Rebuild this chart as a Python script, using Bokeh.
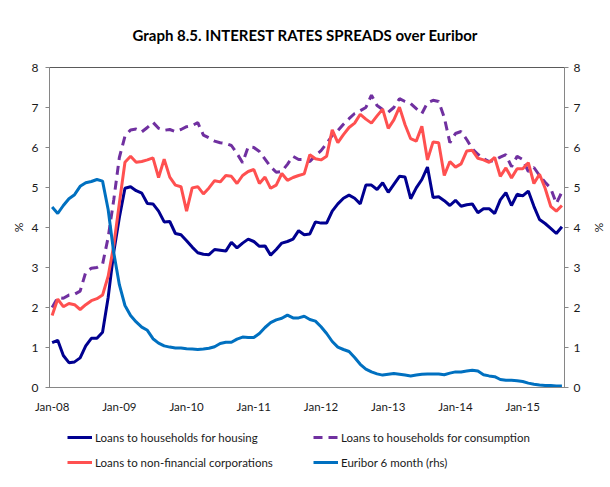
from bokeh.plotting import figure
from bokeh.layouts import column
from bokeh.models import Range1d, LinearAxis, FixedTicker, Legend, LegendItem
from bokeh.embed import file_html
from bokeh.resources import INLINE

# ---- data (monthly, Jan-2008 .. Aug-2015) ----
months = list(range(92))
tick_positions = [0, 12, 24, 36, 48, 60, 72, 84]
tick_labels = ["Jan-08", "Jan-09", "Jan-10", "Jan-11", "Jan-12", "Jan-13", "Jan-14", "Jan-15"]
y_ticks = [0, 1, 2, 3, 4, 5, 6, 7, 8]

housing = [1.12, 1.18, 0.80, 0.62, 0.64, 0.74, 1.04, 1.23, 1.23, 1.38, 2.25, 3.39,
           4.25, 4.98, 5.02, 4.92, 4.86, 4.60, 4.59, 4.41, 4.14, 4.15, 3.85, 3.82,
           3.67, 3.51, 3.37, 3.33, 3.32, 3.45, 3.43, 3.41, 3.63, 3.49, 3.61, 3.71,
           3.65, 3.53, 3.54, 3.31, 3.45, 3.61, 3.65, 3.71, 3.92, 3.82, 3.84, 4.14,
           4.11, 4.11, 4.41, 4.59, 4.73, 4.81, 4.73, 4.59, 5.06, 5.06, 4.95, 5.12,
           4.88, 5.08, 5.28, 5.26, 4.72, 4.99, 5.20, 5.51, 4.75, 4.77, 4.67, 4.55,
           4.68, 4.53, 4.57, 4.59, 4.37, 4.47, 4.47, 4.35, 4.69, 4.87, 4.55, 4.83,
           4.79, 4.91, 4.53, 4.20, 4.10, 3.98, 3.85, 4.02]

consumption = [2.00, 2.25, 2.23, 2.31, 2.33, 2.41, 2.88, 2.98, 3.00, 3.08, 3.75, 4.69,
               5.75, 6.28, 6.44, 6.46, 6.39, 6.50, 6.63, 6.48, 6.43, 6.45, 6.40, 6.45,
               6.52, 6.55, 6.62, 6.31, 6.24, 6.16, 6.12, 6.10, 6.05, 5.85, 5.62, 6.02,
               6.00, 5.90, 5.71, 5.52, 5.38, 5.40, 5.58, 5.78, 5.70, 5.70, 5.65, 5.80,
               5.92, 6.10, 6.30, 6.42, 6.58, 6.72, 6.85, 6.92, 7.00, 7.31, 7.05, 6.95,
               6.88, 7.00, 7.22, 7.15, 7.10, 6.97, 6.85, 7.12, 7.18, 7.15, 6.75, 6.12,
               6.35, 6.40, 6.20, 5.97, 5.83, 5.72, 5.65, 5.68, 5.76, 5.82, 5.52, 5.78,
               5.70, 5.40, 5.50, 5.30, 5.13, 4.98, 4.60, 4.89]

nfc = [1.80, 2.21, 2.02, 2.10, 2.07, 1.95, 2.07, 2.17, 2.22, 2.31, 2.78, 3.55,
       4.61, 5.63, 5.78, 5.63, 5.65, 5.69, 5.74, 5.25, 5.71, 5.26, 5.06, 5.02,
       4.41, 4.99, 5.02, 4.84, 4.99, 5.17, 5.14, 5.30, 5.28, 5.10, 5.30, 5.40,
       5.45, 5.10, 5.26, 4.98, 5.06, 5.35, 5.18, 5.25, 5.30, 5.34, 5.82, 5.72,
       5.69, 5.78, 6.44, 6.12, 6.32, 6.50, 6.61, 6.83, 6.71, 6.61, 6.79, 6.96,
       6.48, 6.69, 7.01, 6.57, 6.22, 6.16, 6.53, 5.69, 6.14, 6.12, 5.30, 5.65,
       5.51, 5.59, 5.91, 5.93, 5.73, 5.69, 5.63, 5.75, 5.28, 5.49, 5.24, 5.47,
       5.47, 5.62, 5.10, 5.33, 4.98, 4.53, 4.41, 4.55]

euribor = [4.51, 4.35, 4.55, 4.72, 4.82, 5.03, 5.12, 5.15, 5.20, 5.16, 4.45, 3.37,
           2.57, 2.05, 1.80, 1.64, 1.51, 1.43, 1.22, 1.11, 1.04, 1.01, 0.99, 0.99,
           0.97, 0.96, 0.95, 0.96, 0.98, 1.02, 1.10, 1.13, 1.13, 1.21, 1.26, 1.25,
           1.25, 1.35, 1.50, 1.62, 1.69, 1.73, 1.81, 1.74, 1.74, 1.78, 1.70, 1.66,
           1.52, 1.35, 1.15, 1.01, 0.95, 0.90, 0.75, 0.58, 0.46, 0.39, 0.34, 0.31,
           0.33, 0.35, 0.33, 0.31, 0.29, 0.31, 0.33, 0.34, 0.34, 0.34, 0.32, 0.36,
           0.39, 0.39, 0.41, 0.43, 0.41, 0.32, 0.29, 0.27, 0.20, 0.18, 0.18, 0.17,
           0.15, 0.11, 0.08, 0.06, 0.05, 0.05, 0.04, 0.04]

series_names = ["Loans to households for housing",
                "Loans to households for consumption",
                "Loans to non-financial corporations",
                "Euribor 6 month (rhs)"]
series_colors = ["#000090", "#7030A0", "#FF5050", "#0070C0"]
series_dash = ["solid", "9 6", "solid", "solid"]
title_text = "Graph 8.5. INTEREST RATES SPREADS over Euribor"

FONT = "Lato"
AX_COLOR = "#868686"
TXT = "#1a1a1a"

p = figure(width=610, height=420, output_backend="svg", toolbar_location=None,
           x_range=Range1d(-0.47, 91.46), y_range=Range1d(0, 8),
           min_border_left=49, min_border_right=37, min_border_top=60,
           min_border_bottom=33, title=title_text)
p.extra_y_ranges = {"rhs": Range1d(0, 8)}
p.xgrid.visible = False
p.ygrid.visible = False
p.outline_line_color = "#5a5a5a"
p.outline_line_width = 1
p.background_fill_color = "white"
p.border_fill_color = "white"

p.title.align = "left"
p.title.offset = 83
p.title.standoff = 47
p.title.text_font = FONT
p.title.text_font_style = "bold"
p.title.text_font_size = "15px"
p.title.text_color = "#000000"

# x axis
xa = p.xaxis[0]
xa.ticker = FixedTicker(ticks=tick_positions)
xa.major_label_overrides = {t: l for t, l in zip(tick_positions, tick_labels)}
xa.major_tick_out = 0
xa.major_tick_in = 0
xa.minor_tick_out = 0
xa.minor_tick_in = 0
xa.major_label_standoff = 12
xa.axis_line_color = AX_COLOR
xa.major_label_text_font = FONT
xa.major_label_text_font_size = "11.5px"
xa.major_label_text_color = TXT

# left y axis
ya = p.yaxis[0]
ya.ticker = FixedTicker(ticks=y_ticks)
ya.major_tick_out = 4
ya.major_tick_in = 0
ya.minor_tick_out = 0
ya.minor_tick_in = 0
ya.major_label_standoff = 7
ya.axis_line_color = AX_COLOR
ya.major_tick_line_color = AX_COLOR
ya.major_label_text_font = FONT
ya.major_label_text_font_size = "12px"
ya.major_label_text_color = TXT
ya.axis_label = "%"
ya.axis_label_standoff = 3
ya.axis_label_text_font = FONT
ya.axis_label_text_font_style = "normal"
ya.axis_label_text_font_size = "12px"
ya.axis_label_text_color = TXT

# right y axis
ra = LinearAxis(y_range_name="rhs", ticker=FixedTicker(ticks=y_ticks))
ra.major_tick_out = 4
ra.major_tick_in = 0
ra.minor_tick_out = 0
ra.minor_tick_in = 0
ra.major_label_standoff = 5
ra.axis_line_color = AX_COLOR
ra.major_tick_line_color = AX_COLOR
ra.major_label_text_font = FONT
ra.major_label_text_font_size = "12px"
ra.major_label_text_color = TXT
ra.axis_label = "%"
ra.axis_label_standoff = 9
ra.axis_label_text_font = FONT
ra.axis_label_text_font_style = "normal"
ra.axis_label_text_font_size = "12px"
ra.axis_label_text_color = TXT
p.add_layout(ra, "right")

# series
all_series = [housing, consumption, nfc, euribor]
p.line(months, housing, line_color=series_colors[0], line_width=3, line_dash=series_dash[0])
p.line(months, consumption, line_color=series_colors[1], line_width=3, line_dash=series_dash[1])
p.line(months, nfc, line_color=series_colors[2], line_width=3, line_dash=series_dash[2])
p.line(months, euribor, line_color=series_colors[3], line_width=3, line_dash=series_dash[3],
       y_range_name="rhs")

# legend strip below the chart (own figure so nothing is clipped);
# its frame is aligned with the chart's frame by the column layout.
lg = figure(width=610, height=66, output_backend="svg", toolbar_location=None,
            x_range=Range1d(0, 1), y_range=Range1d(-20, -19),
            x_axis_location=None, y_axis_location=None,
            min_border_left=0, min_border_right=0, min_border_top=0, min_border_bottom=0)
lg.xgrid.visible = False
lg.ygrid.visible = False
lg.outline_line_color = None
lg.background_fill_color = "white"
lg.border_fill_color = "white"

# the same series again, lying outside this strip's visible range: used only as legend swatches
swatches = [lg.line(months, s, line_color=c, line_width=3, line_dash=d)
            for s, c, d in zip(all_series, series_colors, series_dash)]

common = dict(orientation="vertical", spacing=5, glyph_width=25, glyph_height=20,
              label_height=20, label_standoff=3, padding=0, margin=0,
              border_line_color=None, background_fill_alpha=0,
              label_text_font=FONT, label_text_font_size="11.5px",
              label_text_color=TXT)
left_col = Legend(items=[LegendItem(label=series_names[0], renderers=[swatches[0]]),
                         LegendItem(label=series_names[2], renderers=[swatches[2]])],
                  location=(18, 14), **common)
right_col = Legend(items=[LegendItem(label=series_names[1], renderers=[swatches[1]]),
                          LegendItem(label=series_names[3], renderers=[swatches[3]])],
                   location=(264, 14), **common)
lg.add_layout(left_col)
lg.add_layout(right_col)

open("out.html", "w").write(file_html(column(p, lg, spacing=0), INLINE))
